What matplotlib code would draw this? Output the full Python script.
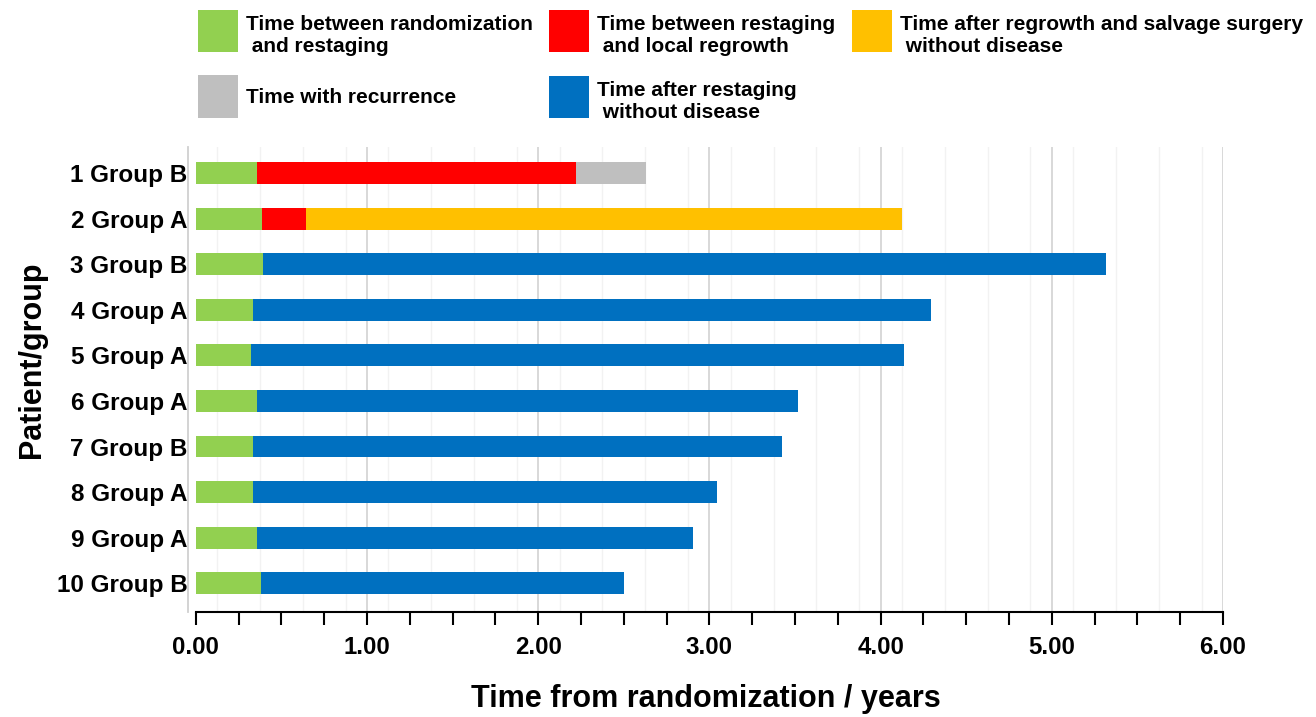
import matplotlib.pyplot as plt
import matplotlib.transforms as mtransforms
import numpy as np

plt.rcParams['font.family'] = ['Liberation Sans', 'DejaVu Sans']
plt.rcParams['font.weight'] = 'bold'

# patients (top to bottom)
patients = ['1 Group B', '2 Group A', '3 Group B', '4 Group A', '5 Group A',
            '6 Group A', '7 Group B', '8 Group A', '9 Group A', '10 Group B']

# segment durations in years
rand_to_restage = [0.356, 0.387, 0.393, 0.335, 0.323, 0.358, 0.335, 0.335, 0.358, 0.379]
restage_to_regrowth = [1.864, 0.257, 0, 0, 0, 0, 0, 0, 0, 0]
salvage_no_disease = [0, 3.481, 0, 0, 0, 0, 0, 0, 0, 0]
with_recurrence = [0.41, 0, 0, 0, 0, 0, 0, 0, 0, 0]
restage_no_disease = [0, 0, 4.922, 3.96, 3.814, 3.16, 3.09, 2.711, 2.545, 2.123]

series = [
    (rand_to_restage, '#92D050', 'Time between randomization\n and restaging'),
    (restage_to_regrowth, '#FF0000', 'Time between restaging\n and local regrowth'),
    (salvage_no_disease, '#FFC000', 'Time after regrowth and salvage surgery\n without disease'),
    (with_recurrence, '#BFBFBF', 'Time with recurrence'),
    (restage_no_disease, '#0070C0', 'Time after restaging\n without disease'),
]

fig = plt.figure(figsize=(13.16, 7.17), dpi=100)
W, H = 1316, 717
ax = fig.add_axes([188 / W, (H - 612) / H, (1223 - 188) / W, (612 - 147) / H])

y = np.arange(len(patients))
left = np.zeros(len(patients))
handles = {}
for vals, col, lab in series:
    vals = np.array(vals)
    b = ax.barh(y, vals, left=left, height=0.48, color=col, linewidth=0, label=lab, zorder=3)
    handles[lab] = b
    left = left + vals

ax.set_xlim(-0.045, 6.0)
ax.set_ylim(9.63, -0.57)

# grid
for xv in np.arange(0.125, 6, 0.25):
    ax.axvline(xv, color='#f2f2f2', lw=1.0, zorder=1)
for xv in range(1, 7):
    ax.axvline(xv, color='#d6d6d6', lw=1.3, zorder=2)

ticks = np.arange(0, 6.01, 0.25)
ax.set_xticks(ticks)
ax.set_xticklabels(['%.2f' % t if abs(t - round(t)) < 1e-9 else '' for t in ticks])
ax.tick_params(axis='x', direction='out', length=9, width=1.5, pad=8, labelsize=17.3, color='black')
ax.set_yticks(y)
ax.set_yticklabels(patients)
ax.tick_params(axis='y', length=0, pad=0.5, labelsize=17.5)

for s in ['top', 'right']:
    ax.spines[s].set_visible(False)
ax.spines['left'].set_color('#d0d0d0')
ax.spines['left'].set_linewidth(1.3)
ax.spines['bottom'].set_linewidth(1.5)
ax.spines['bottom'].set_bounds(0, 6)

ax.set_xlabel('Time from randomization / years', fontsize=22, fontweight='bold', labelpad=18)
ax.set_ylabel('Patient/group', fontsize=22, fontweight='bold')
ax.yaxis.set_label_coords(-0.136, 0.542)

order = [series[0][2], series[3][2], series[1][2], series[4][2], series[2][2]]
leg = fig.legend([handles[k] for k in order], order, loc='upper left',
                 bbox_to_anchor=(198 / W, 1 - 9 / H), ncol=3, frameon=False,
                 fontsize=15, handlelength=1.9, handleheight=2.75, handletextpad=0.4,
                 columnspacing=0.8, labelspacing=1.13, borderpad=0, borderaxespad=0)
# two-line labels sit a bit lower in the original
for t in leg.get_texts():
    if '\n' in t.get_text():
        t.set_transform(t.get_transform() + mtransforms.Affine2D().translate(0, -6))

fig.savefig('out.png', dpi=100)
